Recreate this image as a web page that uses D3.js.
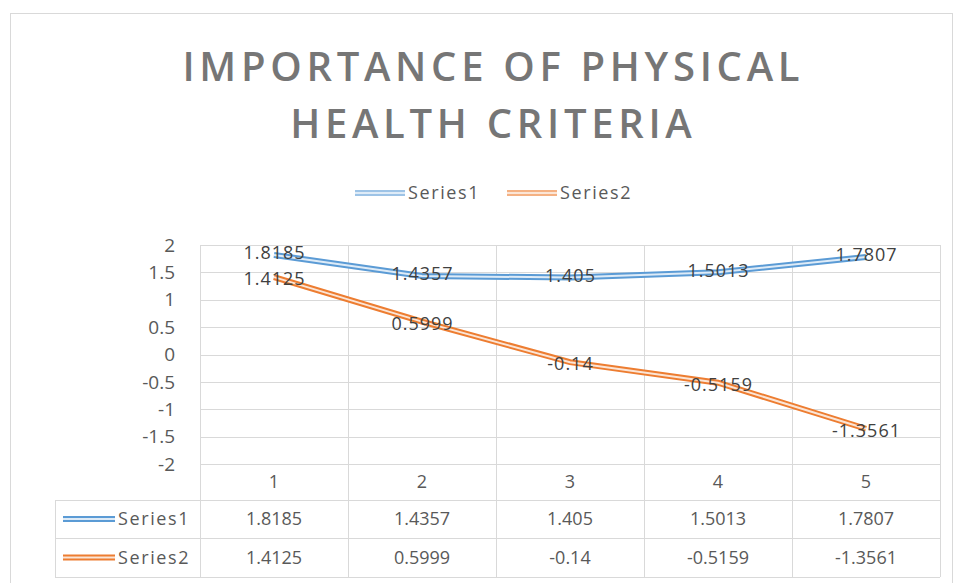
<!DOCTYPE html>
<html>
<head>
<meta charset="utf-8">
<script src="https://cdn.jsdelivr.net/npm/d3@7"></script>
<style>
  body { margin: 0; background: #fff; }
  text { font-family: "Open Sans", "Noto Sans", sans-serif; }
</style>
</head>
<body>
<div id="vis"></div>
<script>
const categories = [1, 2, 3, 4, 5];
const seriesNames = ["Series1", "Series2"];
const series1 = [1.8185, 1.4357, 1.405, 1.5013, 1.7807];
const series2 = [1.4125, 0.5999, -0.14, -0.5159, -1.3561];
const yTicks = [2, 1.5, 1, 0.5, 0, -0.5, -1, -1.5, -2];
const titleLines = ["IMPORTANCE OF PHYSICAL", "HEALTH CRITERIA"];

const svg = d3.select("#vis").append("svg").attr("width", 959).attr("height", 583);
const gridColor = "#d9d9d9";
const textColor = "#595959";
const colors = [
  { outer: "#5b9bd5", inner: "#deebf7", legend: "#9dc3e6" },
  { outer: "#ed7d31", inner: "#fbe5d6", legend: "#f4b183" }
];

// chart frame
svg.append("rect").attr("x", 10.5).attr("y", 13.5).attr("width", 942).attr("height", 600)
  .attr("fill", "none").attr("stroke", gridColor);

// title
const titleSpacing = 4.7;
svg.selectAll(".title").data(titleLines).enter().append("text")
  .attr("x", 491 + titleSpacing / 2).attr("y", (d, i) => 81 + i * 57)
  .attr("text-anchor", "middle").attr("font-size", 40).attr("font-weight", 600)
  .attr("letter-spacing", titleSpacing).attr("fill", "#767676").text(d => d);

const plot = { left: 200, right: 940, top: 245, bottom: 464 };
const rowY = [464, 500, 538, 577];
const tableLeft = 55;

const x = d3.scaleBand().domain(categories).range([plot.left, plot.right]);
const y = d3.scaleLinear().domain([-2, 2]).range([plot.bottom, plot.top]);

// horizontal gridlines
svg.append("g").selectAll("line").data(yTicks).enter().append("line")
  .attr("x1", plot.left).attr("x2", plot.right)
  .attr("y1", d => Math.round(y(d)) + 0.5).attr("y2", d => Math.round(y(d)) + 0.5)
  .attr("stroke", gridColor);

// vertical gridlines (through the data table)
const vBounds = categories.map(c => x(c)).concat([plot.right]);
svg.append("g").selectAll("line").data(vBounds).enter().append("line")
  .attr("x1", d => Math.round(d) + 0.5).attr("x2", d => Math.round(d) + 0.5)
  .attr("y1", plot.top).attr("y2", rowY[3])
  .attr("stroke", gridColor);

// table lines
svg.append("g").selectAll("line").data(rowY.slice(1)).enter().append("line")
  .attr("x1", tableLeft).attr("x2", plot.right)
  .attr("y1", d => d + 0.5).attr("y2", d => d + 0.5).attr("stroke", gridColor);
svg.append("line").attr("x1", tableLeft + 0.5).attr("x2", tableLeft + 0.5)
  .attr("y1", rowY[1]).attr("y2", rowY[3]).attr("stroke", gridColor);

// y axis labels
svg.append("g").selectAll("text").data(yTicks).enter().append("text")
  .attr("x", 175).attr("y", d => y(d)).attr("dy", "0.35em")
  .attr("text-anchor", "end").attr("font-size", 19).attr("fill", textColor)
  .text(d => d);

// category labels (table header)
svg.append("g").selectAll("text").data(categories).enter().append("text")
  .attr("x", d => x(d) + x.bandwidth() / 2).attr("y", (rowY[0] + rowY[1]) / 2).attr("dy", "0.35em")
  .attr("text-anchor", "middle").attr("font-size", 18).attr("fill", textColor)
  .text(d => d);

const allSeries = [series1, series2];
const line = d3.line().x((d, i) => x(categories[i]) + x.bandwidth() / 2).y(d => y(d));

// double lines
allSeries.forEach((s, k) => {
  svg.append("path").datum(s).attr("d", line).attr("fill", "none")
    .attr("stroke", colors[k].outer).attr("stroke-width", 6);
  svg.append("path").datum(s).attr("d", line).attr("fill", "none")
    .attr("stroke", colors[k].inner).attr("stroke-width", 2);
});

// data labels (series1 nudged up, series2 down, so the first pair stays apart)
const labelShift = [-2, 2];
allSeries.forEach((s, k) => {
  svg.append("g").selectAll("text").data(s).enter().append("text")
    .attr("x", (d, i) => x(categories[i]) + x.bandwidth() / 2 + 0.5)
    .attr("y", d => y(d) + labelShift[k]).attr("dy", "0.35em")
    .attr("text-anchor", "middle").attr("font-size", 18).attr("letter-spacing", 1)
    .attr("fill", "#404040")
    .text(d => d);
});

// legend keys drawn as double lines
function key(g, outer, inner, x0, y0, w) {
  g.append("line").attr("x1", x0).attr("x2", x0 + w).attr("y1", y0).attr("y2", y0)
    .attr("stroke", outer).attr("stroke-width", 6);
  g.append("line").attr("x1", x0).attr("x2", x0 + w).attr("y1", y0).attr("y2", y0)
    .attr("stroke", inner).attr("stroke-width", 2);
}

// top legend
const legendX = [355, 507];
seriesNames.forEach((n, k) => {
  const g = svg.append("g");
  key(g, colors[k].legend, colors[k].inner, legendX[k], 193, 50);
  g.append("text").attr("x", legendX[k] + 53).attr("y", 193).attr("dy", "0.35em")
    .attr("font-size", 18).attr("letter-spacing", 1.6).attr("fill", textColor).text(n);
});

// table rows
allSeries.forEach((s, k) => {
  const cy = (rowY[k + 1] + rowY[k + 2]) / 2;
  const g = svg.append("g");
  key(g, colors[k].outer, colors[k].inner, 63, cy, 52);
  g.append("text").attr("x", 118).attr("y", cy).attr("dy", "0.35em")
    .attr("font-size", 18).attr("letter-spacing", 1.6).attr("fill", textColor).text(seriesNames[k]);
  g.selectAll(".v").data(s).enter().append("text")
    .attr("x", (d, i) => x(categories[i]) + x.bandwidth() / 2).attr("y", cy).attr("dy", "0.35em")
    .attr("text-anchor", "middle").attr("font-size", 18).attr("fill", textColor)
    .text(d => d);
});
</script>
</body>
</html>
